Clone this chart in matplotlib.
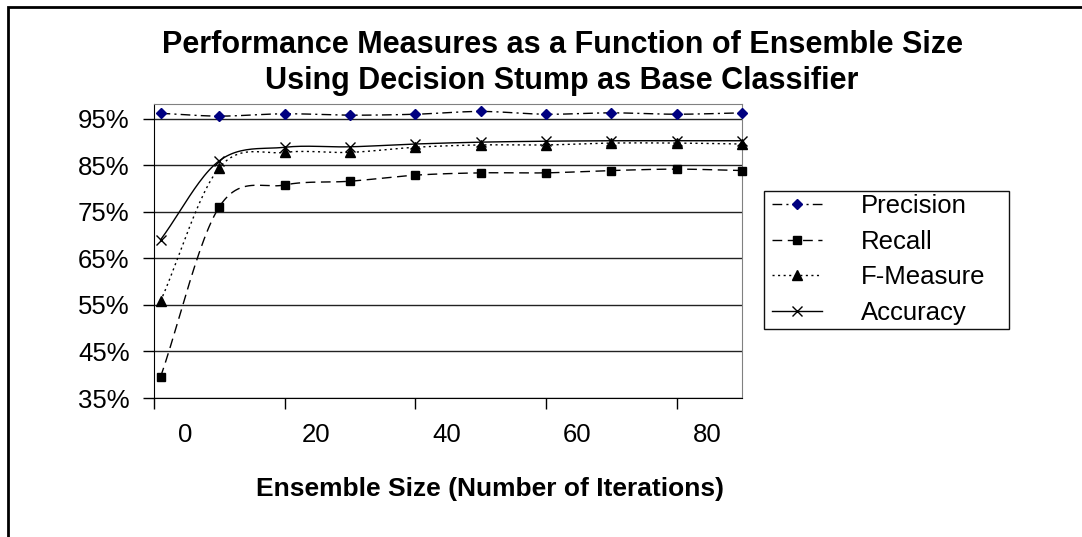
import numpy as np
import matplotlib
matplotlib.use("Agg")
import matplotlib.pyplot as plt
from matplotlib.patches import Rectangle
from matplotlib.ticker import PercentFormatter

plt.rcParams['font.family'] = ['Liberation Sans', 'DejaVu Sans']

# ensemble sizes (iterations) and measured scores
iterations = [1, 10, 20, 30, 40, 50, 60, 70, 80, 90]
precision = [96.2, 95.6, 96.1, 95.8, 96.0, 96.6, 96.0, 96.3, 96.0, 96.3]
recall = [39.5, 76.1, 80.8, 81.6, 82.9, 83.4, 83.4, 83.9, 84.2, 83.9]
f_measure = [55.8, 84.5, 87.8, 87.8, 88.9, 89.4, 89.4, 89.8, 89.8, 89.6]
accuracy = [69.0, 86.0, 88.9, 89.0, 89.6, 90.0, 90.2, 90.3, 90.3, 90.3]

x_ticks = [0, 20, 40, 60, 80]
y_ticks = [35, 45, 55, 65, 75, 85, 95]


def smooth(xs, ys, n=24):
    # catmull-rom curve through the points, like Excel's "smoothed line"
    p = np.column_stack([xs, ys]).astype(float)
    pts = np.vstack([p[0] - (p[1] - p[0]), p, p[-1] + (p[-1] - p[-2])])
    out = []
    t = np.linspace(0, 1, n, endpoint=False)[:, None]
    for i in range(1, len(pts) - 2):
        p0, p1, p2, p3 = pts[i - 1], pts[i], pts[i + 1], pts[i + 2]
        m1 = (p2 - p0) / 2
        m2 = (p3 - p1) / 2
        h00 = 2 * t**3 - 3 * t**2 + 1
        h10 = t**3 - 2 * t**2 + t
        h01 = -2 * t**3 + 3 * t**2
        h11 = t**3 - t**2
        out.append(h00 * p1 + h10 * m1 + h01 * p2 + h11 * m2)
    out.append(p[-1:])
    curve = np.vstack(out)
    marks = [i * n for i in range(len(xs))]
    return curve[:, 0], curve[:, 1], marks


W, H = 1082, 537
fig = plt.figure(figsize=(W / 100, H / 100), dpi=100)
ax = fig.add_axes([154 / W, 1 - 398 / H, 588 / W, 294 / H])

series = [
    ("Precision", precision, dict(dashes=(7, 3, 1.5, 3), marker="D", ms=5.5,
                                  mfc="#000080", mec="#000080")),
    ("Recall", recall, dict(dashes=(7, 4), marker="s", ms=6,
                            mfc="black", mec="black")),
    ("F-Measure", f_measure, dict(dashes=(1.5, 2.5), marker="^", ms=7,
                                  mfc="black", mec="black")),
    ("Accuracy", accuracy, dict(linestyle="-", marker="x", ms=7,
                                mfc="black", mec="black", mew=1)),
]
for name, vals, style in series:
    sx, sy, marks = smooth(iterations, vals)
    ax.plot(sx, sy, color="black", lw=1, markevery=marks, label=name,
            clip_on=False, zorder=3, **style)

ax.set_xlim(0, 90)
ax.set_ylim(35, 98.2)
ax.set_yticks(y_ticks)
ax.yaxis.set_major_formatter(PercentFormatter(decimals=0))
ax.grid(axis="y", color="#222222", lw=1)
ax.set_axisbelow(True)

# the original draws each x label a little right of its tick mark
ax.set_xticks(x_ticks)
ax.set_xticklabels([])
ax.set_xticks([v + 4.75 for v in x_ticks], minor=True)
ax.set_xticklabels([str(v) for v in x_ticks], minor=True)
ax.tick_params(axis="x", which="minor", length=0, pad=18, labelsize=18.5)
ax.tick_params(axis="x", which="major", length=8, width=1, direction="out")
ax.tick_params(axis="y", length=8, width=1, direction="out", pad=9.5,
               labelsize=18.5)

for s in ("left", "bottom"):
    ax.spines[s].set_color("black")
for s in ("top", "right"):
    ax.spines[s].set_color("#808080")

fig.text(490 / W, 1 - 496 / H, "Ensemble Size (Number of Iterations)",
         ha="center", va="baseline", fontsize=19, fontweight="bold")
fig.text(562 / W, 1 - 63 / H,
         "Performance Measures as a Function of Ensemble Size\n"
         "Using Decision Stump as Base Classifier",
         ha="center", va="center", fontsize=22, fontweight="bold",
         linespacing=1.25)

# legend entries without the automatic frame; the box is drawn separately
fig.legend(loc="upper left", bbox_to_anchor=(772 / W, 1 - 194 / H),
           fontsize=18.5, frameon=False, handlelength=1.95,
           handletextpad=1.5, labelspacing=0.45, borderpad=0,
           borderaxespad=0)
fig.patches.append(Rectangle((764 / W, 1 - 329 / H), 245 / W, 138 / H,
                             transform=fig.transFigure, fill=False,
                             edgecolor="#111111", lw=1))

# outer chart border (only the top and left edges fall inside the image)
fig.patches.append(Rectangle((7.5 / W, -1), 3, 2 - 7 / H,
                             transform=fig.transFigure, fill=False,
                             edgecolor="black", lw=2))

fig.savefig("out.png", dpi=100)
